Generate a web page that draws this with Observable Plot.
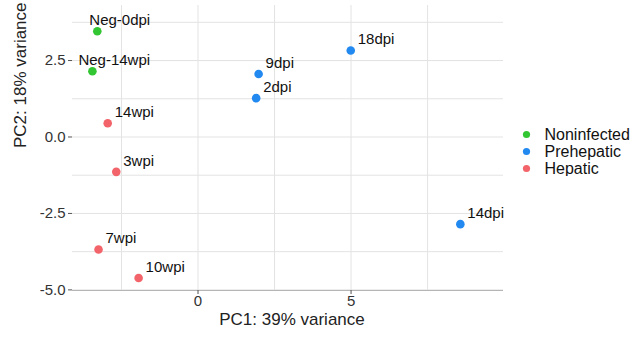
<!DOCTYPE html>
<html><head><meta charset="utf-8">
<script src="https://cdn.jsdelivr.net/npm/d3@7"></script>
<script src="https://cdn.jsdelivr.net/npm/@observablehq/plot@0.6"></script>
<style>
body{margin:0;background:#fff;font-family:"Liberation Sans",Arial,sans-serif}
#wrap{position:relative;width:635px;height:337px;overflow:hidden}
#legend{position:absolute;left:514px;top:125px}
</style></head><body>
<div id="wrap"><div id="chart"></div><div id="legend"></div></div>
<script>
const samples = ["Neg-0dpi","Neg-14wpi","14wpi","3wpi","7wpi","10wpi","9dpi","2dpi","18dpi","14dpi"];
const pc1 = [-3.29,-3.45,-2.95,-2.67,-3.25,-1.94,1.98,1.90,4.99,8.57];
const pc2 = [3.46,2.15,0.45,-1.14,-3.68,-4.61,2.06,1.27,2.83,-2.85];
const groups = ["Noninfected","Noninfected","Hepatic","Hepatic","Hepatic","Hepatic","Prehepatic","Prehepatic","Prehepatic","Prehepatic"];
const groupNames = ["Noninfected","Prehepatic","Hepatic"];
const groupColors = ["#33c633","#2289f0","#f2646a"];
const xTicks = [0,5];
const yTicks = [-5,-2.5,0,2.5];
const xMinor = [-2.5,2.5,7.5];
const yMinor = [-3.75,-1.25,1.25,3.75];
const xTitle = "PC1: 39% variance";
const yTitle = "PC2: 18% variance";

const data = samples.map((s,i)=>({sample:s,pc1:pc1[i],pc2:pc2[i],group:groups[i]}));
const fmt = d => d3.format(".1f")(d).replace("\u2212","-");
const font = "Liberation Sans, Arial, sans-serif";
const yDomain = [-5.02,4.3];

const chart = Plot.plot({
  width:635, height:337,
  marginLeft:72, marginRight:132, marginTop:5, marginBottom:47,
  x:{domain:[-4.1,9.98]},
  y:{domain:yDomain},
  color:{domain:groupNames, range:groupColors},
  style:{fontFamily:font, background:"white", color:"#222"},
  marks:[
    Plot.ruleX([...xTicks,...xMinor],{stroke:"#e3e3e3",strokeWidth:1}),
    Plot.ruleY([...yTicks,...yMinor],{stroke:"#e3e3e3",strokeWidth:1}),
    Plot.ruleY([yDomain[0]],{stroke:"#b5b5b5",strokeWidth:1}),
    Plot.axisX({ticks:xTicks, tickFormat:d=>String(d), tickSize:4, tickPadding:1, fontSize:15, label:null, color:"#333", stroke:"#555"}),
    Plot.axisY({ticks:yTicks, tickFormat:fmt, tickSize:4, tickPadding:3, fontSize:15, label:null, color:"#333", stroke:"#555"}),
    Plot.dot(data,{x:"pc1",y:"pc2",fill:"group",r:4.3}),
    Plot.text(data.filter(d=>d.sample==="Neg-0dpi"),{x:"pc1",y:"pc2",text:"sample",textAnchor:"start",dx:-8,dy:-11,fontSize:15,fill:"#111"}),
    Plot.text(data.filter(d=>d.sample==="Neg-14wpi"),{x:"pc1",y:"pc2",text:"sample",textAnchor:"start",dx:-14,dy:-11,fontSize:15,fill:"#111"}),
    Plot.text(data.filter(d=>!d.sample.startsWith("Neg")),{x:"pc1",y:"pc2",text:"sample",textAnchor:"start",dx:7,dy:-11,fontSize:15,fill:"#111"}),
    Plot.text([xTitle],{frameAnchor:"bottom",dy:34,dx:4,fontSize:17,fill:"#222"}),
    Plot.text([yTitle],{frameAnchor:"left",dx:-52,rotate:-90,fontSize:17,fill:"#222"})
  ]
});
document.getElementById("chart").appendChild(chart);

const legend = Plot.plot({
  width:121, height:51,
  margin:0,
  x:{domain:[0,1], axis:null},
  y:{type:"point", domain:groupNames, axis:null, padding:0.5},
  color:{domain:groupNames, range:groupColors},
  style:{fontFamily:font, background:"white"},
  marks:[
    Plot.dot(groupNames,{y:d=>d, frameAnchor:"left", dx:12, fill:d=>d, r:3.6}),
    Plot.text(groupNames,{y:d=>d, frameAnchor:"left", dx:30, text:d=>d, textAnchor:"start", fontSize:16, fill:"#111"})
  ]
});
document.getElementById("legend").appendChild(legend);
</script>
</body></html>
